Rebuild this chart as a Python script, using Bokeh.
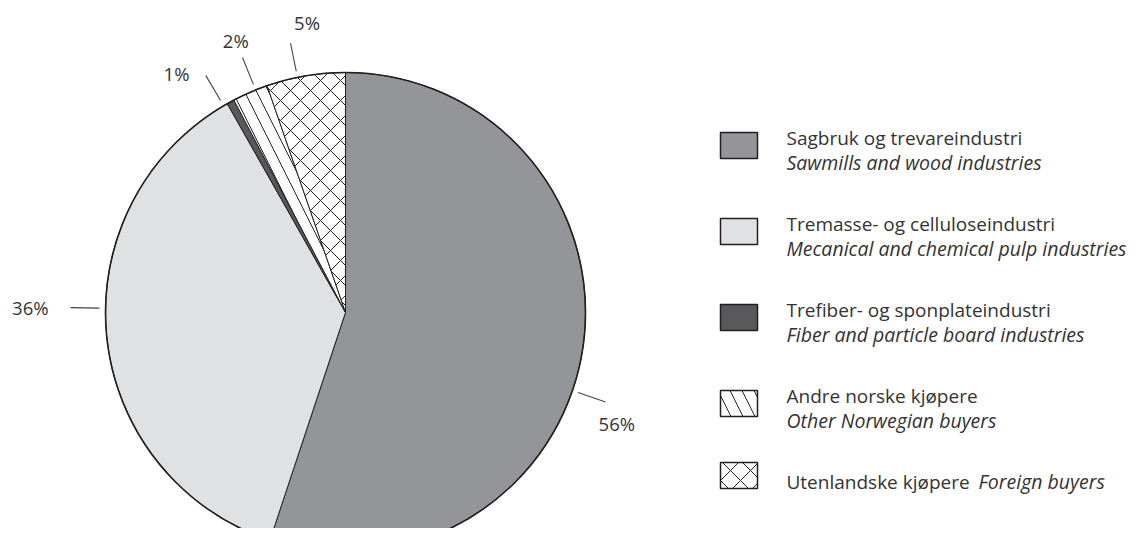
import math
from bokeh.plotting import figure
from bokeh.models import Range1d
from bokeh.core.properties import value
from bokeh.embed import file_html
from bokeh.resources import INLINE

# ---------------- data ----------------
categories_no = ["Sagbruk og trevareindustri", "Tremasse- og celluloseindustri",
                 "Trefiber- og sponplateindustri", "Andre norske kjøpere",
                 "Utenlandske kjøpere"]
categories_en = ["Sawmills and wood industries", "Mecanical and chemical pulp industries",
                 "Fiber and particle board industries", "Other Norwegian buyers",
                 "Foreign buyers"]
shares = [55.1, 36.7, 0.5, 2.4, 5.3]
share_labels = ["56%", "36%", "1%", "2%", "5%"]

# ---------------- style ----------------
fills = ["#939598", "#e0e1e3", "#58595b", "#ffffff", "#ffffff"]
hatches = [None, None, None, "\\", "x"]
hatch_scales = [12, 12, 12, 24, 20]
leader_nudge = [9.8, 6.6, -1.9, 1.4, -2.0]   # degrees, leader offset from slice middle
label_nudge = [3.2, 0.0, -4.7, 0.0, 4.0]
EDGE = "#231f20"
TXT = "#333333"
FONT = value("Open Sans")
FS_LAB = value("18.5px")
FS = value("19px")
FS_IT = value("19.5px")

W, H = 1130, 528
def X(ix): return ix
def Y(iy): return H - iy

CX, CY, R = 345, 312, 240

p = figure(width=W, height=H, output_backend="svg", toolbar_location=None,
           x_range=Range1d(0, W), y_range=Range1d(0, H), min_border=0,
           outline_line_color=None, background_fill_color="white")
p.axis.visible = False
p.grid.visible = False

total = sum(shares)
cum = 0.0
for i, v in enumerate(shares):
    a0 = math.pi / 2 - cum / total * 2 * math.pi
    a1 = math.pi / 2 - (cum + v) / total * 2 * math.pi
    kw = dict(fill_color=fills[i], line_color=EDGE, line_width=1)
    if hatches[i]:
        kw.update(hatch_pattern=hatches[i], hatch_color=EDGE, hatch_weight=1,
                  hatch_scale=hatch_scales[i])
    p.wedge(x=[X(CX)], y=[Y(CY)], radius=R, start_angle=a0, end_angle=a1,
            direction="clock", **kw)
    # leader line & label
    mid = (cum + v / 2) / total * 360.0
    th = math.radians(mid + leader_nudge[i])
    ux, uy = math.sin(th), math.cos(th)
    p.line(x=[X(CX) + (R + 6) * ux, X(CX) + (R + 35) * ux],
           y=[Y(CY) + (R + 6) * uy, Y(CY) + (R + 35) * uy],
           line_color="#444444", line_width=1.1)
    tl = math.radians(mid + leader_nudge[i] + label_nudge[i])
    lx, ly = math.sin(tl), math.cos(tl)
    if abs(lx) > 0.97:
        d = R + 57
        align = "right" if lx < 0 else "left"
    else:
        d = R + 53
        align = "center"
    p.text(x=[X(CX) + d * lx], y=[Y(CY) + d * ly], text=[share_labels[i]],
           text_font=FONT, text_font_size=FS_LAB, text_color=TXT,
           text_align=align, text_baseline="middle")
    cum += v

p.circle(x=[X(CX)], y=[Y(CY)], radius=R, fill_color=None, line_color=EDGE, line_width=1.6)

# ---------------- legend ----------------
SW_X, SW_W, SW_H = 720, 37, 26
TX = 786
LEG_TOP, LEG_STEP, LAST_STEP = 132, 86, 72
n = len(shares)
for i in range(n):
    top = LEG_TOP + i * LEG_STEP if i < n - 1 else LEG_TOP + (i - 1) * LEG_STEP + LAST_STEP
    kw = dict(fill_color=fills[i], line_color=EDGE, line_width=1.5)
    if hatches[i]:
        kw.update(hatch_pattern=hatches[i], hatch_color=EDGE, hatch_weight=1,
                  hatch_scale=hatch_scales[i])
    p.quad(left=[X(SW_X)], right=[X(SW_X + SW_W)], top=[Y(top)], bottom=[Y(top + SW_H)], **kw)
    if i < n - 1:
        p.text(x=[X(TX)], y=[Y(top + 5)], text=[categories_no[i]], text_font=FONT,
               text_font_size=FS, text_color=TXT, text_baseline="alphabetic")
        p.text(x=[X(TX)], y=[Y(top + 30)], text=[categories_en[i]], text_font=FONT,
               text_font_size=FS_IT, text_font_style="italic", text_color=TXT,
               text_baseline="alphabetic")
    else:
        p.text(x=[X(TX)], y=[Y(top + 19)], text=[categories_no[i]], text_font=FONT,
               text_font_size=FS, text_color=TXT, text_baseline="alphabetic")
        p.text(x=[X(TX + 192)], y=[Y(top + 19)], text=[categories_en[i]], text_font=FONT,
               text_font_size=FS_IT, text_font_style="italic", text_color=TXT,
               text_baseline="alphabetic")

open("out.html", "w").write(file_html(p, INLINE))
